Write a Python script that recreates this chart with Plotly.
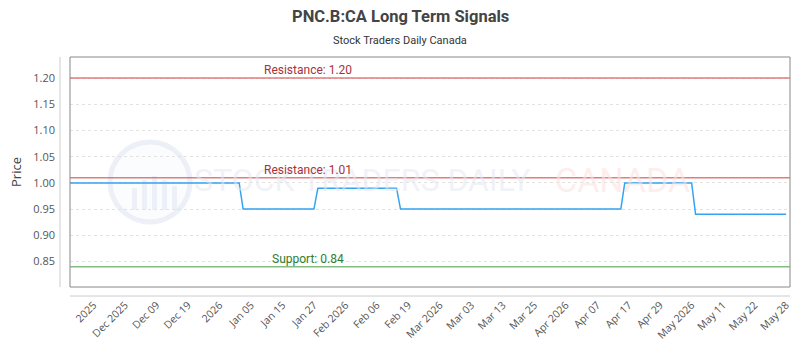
import plotly.graph_objects as go

# ---- data ----
x_idx = [0, 43, 44, 62, 63, 83, 84, 140, 141, 158, 159, 182]
price = [1.00, 1.00, 0.95, 0.95, 0.99, 0.99, 0.95, 0.95, 1.00, 1.00, 0.94, 0.94]

tick_labels = ["2025", "Dec 2025", "Dec 09", "Dec 19", "2026", "Jan 05", "Jan 15", "Jan 27",
               "Feb 2026", "Feb 06", "Feb 19", "Mar 2026", "Mar 03", "Mar 13", "Mar 25",
               "Apr 2026", "Apr 07", "Apr 17", "Apr 29", "May 2026", "May 11", "May 22", "May 28"]
tick_first = 6
tick_step = 8

levels = [1.20, 1.01, 0.84]
level_names = ["Resistance: 1.20", "Resistance: 1.01", "Support: 0.84"]
level_colors = ["rgba(220,80,80,0.75)", "rgba(220,80,80,0.75)", "rgba(90,170,90,0.75)"]
level_text_colors = ["#a8323a", "#a8323a", "#2e7d32"]

y_ticks = [0.85, 0.90, 0.95, 1.00, 1.05, 1.10, 1.15, 1.20]

tickvals = [tick_first + tick_step * i for i in range(len(tick_labels))]

fig = go.Figure()

fig.add_trace(go.Scatter(x=x_idx, y=price, mode="lines",
                         line=dict(color="#33a3f2", width=1.5),
                         hoverinfo="skip", showlegend=False))

shapes = []
annotations = []

# watermark logo
shapes.append(dict(type="circle", xref="paper", yref="paper",
                   x0=(110 - 70) / 720, x1=(190 - 70) / 720,
                   y0=(287 - 222) / 230, y1=(287 - 142) / 230,
                   line=dict(color="rgba(220,226,240,0.5)", width=5),
                   fillcolor="rgba(242,245,251,0.3)", layer="below"))
for bx, bh in [(132, 22), (142, 30), (152, 34), (162, 30), (172, 24)]:
    shapes.append(dict(type="rect", xref="paper", yref="paper",
                       x0=(bx - 70) / 720, x1=(bx + 5 - 70) / 720,
                       y0=(287 - 210) / 230, y1=(287 - 210 + bh) / 230,
                       line=dict(width=0), fillcolor="rgba(220,226,240,0.45)", layer="below"))

annotations.append(dict(xref="paper", yref="paper", x=(362 - 70) / 720, y=(287 - 180) / 230,
                        text="STOCK TRADERS DAILY", showarrow=False,
                        font=dict(family="Roboto, sans-serif", size=32,
                                  color="rgba(228,232,242,0.55)"),
                        xanchor="center", yanchor="middle"))
annotations.append(dict(xref="paper", yref="paper", x=(622 - 70) / 720, y=(287 - 180) / 230,
                        text="CANADA", showarrow=False,
                        font=dict(family="Roboto, sans-serif", size=34,
                                  color="rgba(253,225,225,0.6)"),
                        xanchor="center", yanchor="middle"))

for lv, name, lc, tc in zip(levels, level_names, level_colors, level_text_colors):
    shapes.append(dict(type="line", xref="paper", yref="y", x0=0, x1=1, y0=lv, y1=lv,
                       line=dict(color=lc, width=1.5)))
    annotations.append(dict(xref="paper", yref="y", x=(308 - 70) / 720, y=lv,
                            text=name, showarrow=False, xanchor="center",
                            yanchor="bottom", yshift=-1,
                            font=dict(family="Roboto, sans-serif", size=12, color=tc)))

# plot frame
shapes.append(dict(type="rect", xref="paper", yref="paper", x0=0, x1=1, y0=0, y1=1,
                   line=dict(color="#888888", width=1), layer="above"))
# offset axis lines
shapes.append(dict(type="line", xref="paper", yref="paper", x0=-10 / 720, x1=-10 / 720,
                   y0=0, y1=1, line=dict(color="#cccccc", width=1)))
shapes.append(dict(type="line", xref="paper", yref="paper", x0=0, x1=1,
                   y0=-9 / 230, y1=-9 / 230, line=dict(color="#cccccc", width=1)))

annotations.append(dict(xref="paper", yref="paper", x=(400 - 70) / 720, y=1,
                        text="<b>PNC.B:CA Long Term Signals</b>", showarrow=False,
                        xanchor="center", yanchor="middle", yshift=57 - 16,
                        font=dict(family="Roboto, sans-serif", size=16.5, color="#444444")))
annotations.append(dict(xref="paper", yref="paper", x=(400 - 70) / 720, y=1,
                        text="Stock Traders Daily Canada", showarrow=False,
                        xanchor="center", yanchor="middle", yshift=57 - 40,
                        font=dict(family="Roboto, sans-serif", size=11, color="#333333")))

fig.update_layout(
    width=800, height=350,
    margin=dict(l=70, r=10, t=57, b=63),
    paper_bgcolor="white", plot_bgcolor="white",
    shapes=shapes, annotations=annotations,
    xaxis=dict(range=[0, 183], tickmode="array", tickvals=tickvals, ticktext=tick_labels,
               tickangle=-45, showgrid=False, zeroline=False, showline=False,
               ticks="", ticklabelstandoff=9, automargin=False,
               tickfont=dict(family="Open Sans, sans-serif", size=10.5, color="#555555")),
    yaxis=dict(range=[0.8013, 1.2403], tickmode="array", tickvals=y_ticks,
               ticktext=[f"{v:.2f}" for v in y_ticks], automargin=False,
               showgrid=True, gridcolor="#e2e2e2", griddash="dot", gridwidth=1,
               zeroline=False, showline=False, ticks="", ticklabelstandoff=14,
               title=dict(text="Price", standoff=8,
                          font=dict(family="Open Sans, sans-serif", size=13, color="#444444")),
               tickfont=dict(family="Open Sans, sans-serif", size=11, color="#555555")),
)

fig.write_html("out.html")
